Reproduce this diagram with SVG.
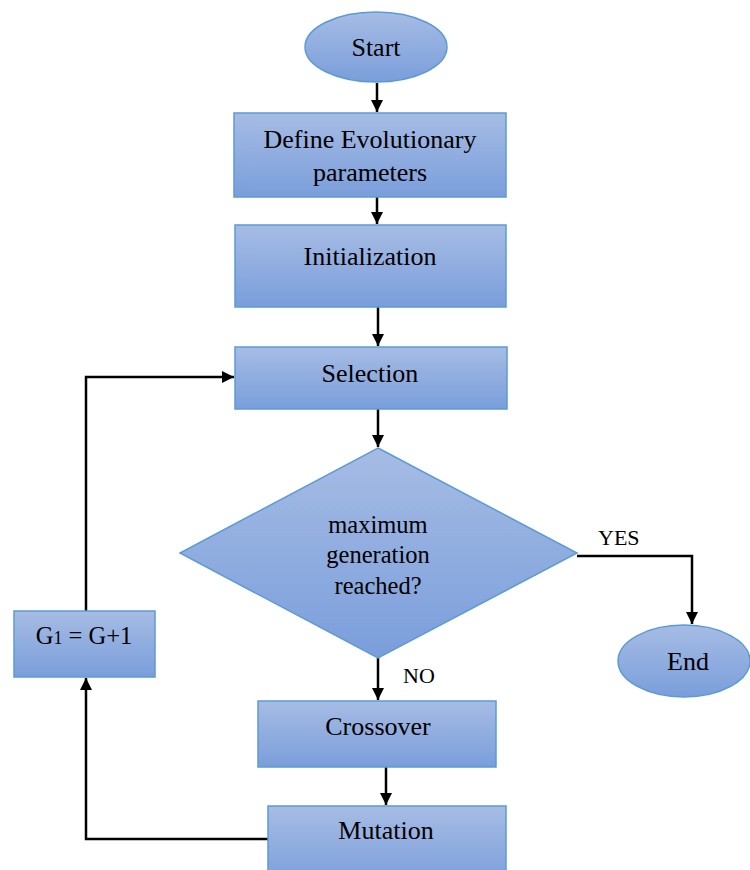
<svg xmlns="http://www.w3.org/2000/svg" width="750" height="870" viewBox="0 0 750 870">
<defs>
<linearGradient id="g" x1="0" y1="0" x2="0" y2="1">
<stop offset="0" stop-color="#a6bce4"/>
<stop offset="1" stop-color="#7a9edb"/>
</linearGradient>
<marker id="ah" viewBox="0 0 12 12" refX="12" refY="6" markerWidth="12" markerHeight="12" markerUnits="userSpaceOnUse" orient="auto">
<path d="M0,0 L12,6 L0,12 z" fill="#000"/>
</marker>
</defs>
<style>
.n{fill:url(#g);stroke:#5b9bd5;stroke-width:1.5}
.t{font-family:"Liberation Serif","Times New Roman",serif;font-size:26px;fill:#000;text-anchor:middle}
.d{font-size:24.5px}
.s{font-family:"Liberation Serif","Times New Roman",serif;font-size:22px;fill:#000}
.c{fill:none;stroke:#000;stroke-width:2.5;marker-end:url(#ah)}
</style>
<rect width="750" height="870" fill="#fff"/>
<g id="connectors">
<line class="c" x1="377" y1="83" x2="377" y2="112"/>
<line class="c" x1="377" y1="197" x2="377" y2="224"/>
<line class="c" x1="378" y1="307" x2="378" y2="346"/>
<line class="c" x1="378" y1="409" x2="378" y2="447"/>
<line class="c" x1="378" y1="658" x2="378" y2="700"/>
<line class="c" x1="386" y1="767" x2="386" y2="805"/>
<polyline class="c" points="577,556 692,556 692,624"/>
<polyline class="c" points="268,839 86,839 86,678"/>
<polyline class="c" points="86,611 86,377 234,377"/>
<text class="s" x="598" y="545">YES</text>
<text class="s" x="403" y="683">NO</text>
</g>
<g id="start">
<ellipse class="n" cx="376" cy="47" rx="71" ry="35"/>
<text class="t" x="376" y="56">Start</text>
</g>
<g id="define">
<rect class="n" x="234" y="113" width="272" height="84"/>
<text class="t" x="370" y="148">Define Evolutionary</text>
<text class="t" x="370" y="181">parameters</text>
</g>
<g id="init">
<rect class="n" x="235" y="225" width="271" height="82"/>
<text class="t" x="370" y="265">Initialization</text>
</g>
<g id="selection">
<rect class="n" x="235" y="347" width="272" height="62"/>
<text class="t" x="370" y="382">Selection</text>
</g>
<g id="decision">
<polygon class="n" points="378,448 577,553 378,658 180,553"/>
<text class="t d" x="378" y="533">maximum</text>
<text class="t d" x="378" y="563">generation</text>
<text class="t d" x="378" y="594">reached?</text>
</g>
<g id="end">
<ellipse class="n" cx="684" cy="661" rx="66" ry="36"/>
<text class="t" x="688" y="670">End</text>
</g>
<g id="crossover">
<rect class="n" x="258" y="701" width="238" height="66"/>
<text class="t" x="378" y="735">Crossover</text>
</g>
<g id="mutation">
<rect class="n" x="268" y="806" width="238" height="80"/>
<text class="t" x="386" y="839">Mutation</text>
</g>
<g id="increment">
<rect class="n" x="14" y="611" width="141" height="66"/>
<text class="t d" x="84" y="644">G<tspan style="font-size:18px">1</tspan> = G+1</text>
</g>
</svg>
